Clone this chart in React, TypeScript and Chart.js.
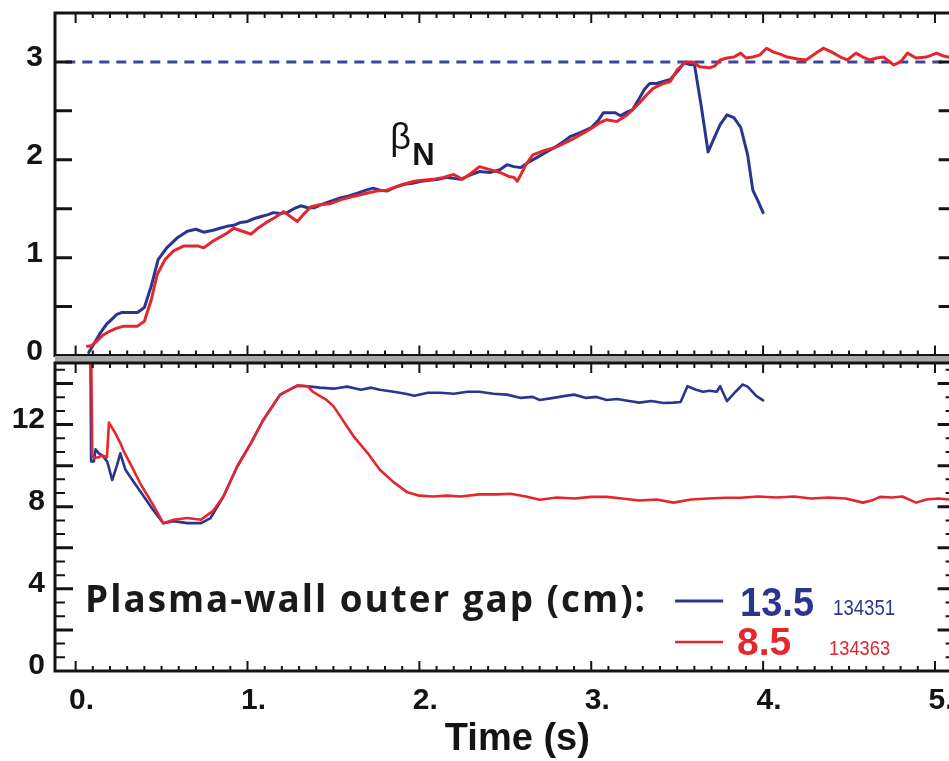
import { useEffect, useRef } from "react";
import { Chart, registerables } from "chart.js";

Chart.register(...registerables);

const BLUE = "#2b3590";
const RED = "#e4262d";
const DASH = "#3c4799";
const INK = "#141414";
const NUM_FONT = "'Liberation Sans', Arial, Helvetica, sans-serif";

// Axis ticks (labels)
const timeTicks = [0, 1, 2, 3, 4, 5];
const betaTicks = [0, 1, 2, 3];
const gapTicks = [0, 4, 8, 12];
const betaTickMarks = [0.5, 1, 1.5, 2, 2.5, 3];
const gapMajorMarks = [2, 4, 6, 8, 10, 12, 14];

// Reference level of beta_N
const betaTarget: [number, number][] = [[-0.06, 3], [5.12, 3]];

// beta_N, shot 134351 (13.5 cm gap)
const betaBlue: [number, number][] = [
  [0.076, 0.03], [0.1, 0.1], [0.14, 0.22], [0.18, 0.32], [0.21, 0.37], [0.24, 0.42], [0.27, 0.44], [0.31, 0.44],
  [0.36, 0.44], [0.4, 0.49], [0.44, 0.71], [0.48, 0.98], [0.53, 1.1], [0.59, 1.2], [0.65, 1.27], [0.7, 1.29],
  [0.745, 1.26], [0.8, 1.28], [0.84, 1.3], [0.88, 1.32], [0.92, 1.33], [0.96, 1.36], [1.0, 1.37], [1.04, 1.4],
  [1.08, 1.42], [1.12, 1.44], [1.15, 1.46], [1.19, 1.45], [1.23, 1.46], [1.27, 1.5], [1.31, 1.53], [1.35, 1.51],
  [1.39, 1.51], [1.44, 1.55], [1.49, 1.58], [1.54, 1.61], [1.59, 1.63], [1.64, 1.66], [1.69, 1.69], [1.73, 1.71],
  [1.77, 1.69], [1.81, 1.68], [1.86, 1.72], [1.91, 1.75], [1.96, 1.76], [2.01, 1.78], [2.06, 1.79], [2.11, 1.8],
  [2.16, 1.82], [2.2, 1.81], [2.24, 1.8], [2.29, 1.84], [2.35, 1.88], [2.41, 1.87], [2.47, 1.9], [2.51, 1.95],
  [2.55, 1.93], [2.59, 1.92], [2.63, 1.97], [2.68, 2.02], [2.74, 2.08], [2.8, 2.14], [2.85, 2.2], [2.88, 2.24],
  [2.94, 2.28], [3.0, 2.33], [3.04, 2.4], [3.07, 2.48], [3.11, 2.48], [3.14, 2.48], [3.17, 2.45], [3.21, 2.49],
  [3.24, 2.51], [3.28, 2.63], [3.31, 2.72], [3.34, 2.78], [3.38, 2.78], [3.42, 2.8], [3.46, 2.82], [3.5, 2.9],
  [3.54, 2.99], [3.58, 2.97], [3.6, 2.98], [3.64, 2.55], [3.68, 2.08], [3.71, 2.2], [3.75, 2.36], [3.79, 2.46],
  [3.83, 2.43], [3.87, 2.33], [3.91, 2.05], [3.94, 1.69], [3.97, 1.58], [4.0, 1.46],
];

// beta_N, shot 134363 (8.5 cm gap)
const betaRed: [number, number][] = [
  [0.068, 0.095], [0.09, 0.1], [0.12, 0.14], [0.16, 0.21], [0.2, 0.25], [0.24, 0.28], [0.28, 0.3], [0.32, 0.3],
  [0.36, 0.3], [0.4, 0.35], [0.44, 0.57], [0.475, 0.83], [0.52, 0.98], [0.57, 1.07], [0.63, 1.12], [0.67, 1.12],
  [0.71, 1.12], [0.745, 1.1], [0.8, 1.17], [0.84, 1.21], [0.88, 1.25], [0.92, 1.3], [0.97, 1.27], [1.02, 1.24],
  [1.06, 1.3], [1.11, 1.36], [1.16, 1.41], [1.21, 1.47], [1.25, 1.42], [1.29, 1.37], [1.33, 1.45], [1.37, 1.52],
  [1.42, 1.54], [1.48, 1.55], [1.54, 1.59], [1.6, 1.62], [1.65, 1.64], [1.7, 1.66], [1.75, 1.68], [1.81, 1.69],
  [1.86, 1.72], [1.91, 1.75], [1.97, 1.78], [2.02, 1.79], [2.08, 1.8], [2.14, 1.82], [2.2, 1.85], [2.25, 1.8],
  [2.3, 1.86], [2.35, 1.93], [2.41, 1.9], [2.47, 1.87], [2.52, 1.83], [2.55, 1.82], [2.57, 1.78], [2.62, 1.95],
  [2.66, 2.05], [2.72, 2.09], [2.78, 2.12], [2.82, 2.15], [2.88, 2.2], [2.94, 2.26], [3.01, 2.33], [3.05, 2.38],
  [3.09, 2.41], [3.15, 2.39], [3.21, 2.46], [3.28, 2.58], [3.32, 2.66], [3.36, 2.73], [3.42, 2.78], [3.46, 2.8],
  [3.5, 2.92], [3.55, 3.0], [3.59, 3.0], [3.63, 2.95], [3.69, 2.94], [3.72, 2.96], [3.75, 3.02], [3.79, 3.04],
  [3.83, 3.05], [3.87, 3.09], [3.9, 3.04], [3.94, 3.05], [3.98, 3.07], [4.02, 3.14], [4.06, 3.1], [4.1, 3.08],
  [4.14, 3.05], [4.2, 3.03], [4.25, 3.02], [4.3, 3.08], [4.35, 3.14], [4.4, 3.1], [4.45, 3.05], [4.49, 3.02],
  [4.54, 3.09], [4.58, 3.05], [4.62, 3.02], [4.66, 3.04], [4.7, 3.05], [4.73, 3.01], [4.76, 2.97], [4.8, 3.0],
  [4.84, 3.09], [4.89, 3.04], [4.95, 3.05], [5.01, 3.09], [5.05, 3.06], [5.1, 3.04],
];

// Plasma-wall outer gap (cm), shot 134351
const gapBlue: [number, number][] = [
  [0.085, 17.5], [0.09, 10.2], [0.106, 10.2], [0.116, 10.8], [0.135, 10.6], [0.155, 10.5], [0.184, 10.2],
  [0.213, 9.3], [0.24, 10.0], [0.26, 10.6], [0.29, 9.8], [0.33, 9.3], [0.38, 8.7], [0.45, 7.85], [0.51, 7.2],
  [0.57, 7.3], [0.65, 7.2], [0.73, 7.2], [0.785, 7.45], [0.86, 8.5], [0.94, 9.96], [1.02, 11.1], [1.09, 12.2],
  [1.19, 13.46], [1.29, 13.9], [1.35, 13.87], [1.42, 13.8], [1.5, 13.75], [1.58, 13.85], [1.66, 13.7],
  [1.72, 13.8], [1.77, 13.7], [1.85, 13.6], [1.92, 13.5], [1.97, 13.4], [2.05, 13.55], [2.12, 13.55],
  [2.2, 13.5], [2.28, 13.6], [2.35, 13.6], [2.43, 13.5], [2.51, 13.46], [2.59, 13.3], [2.66, 13.35],
  [2.7, 13.2], [2.78, 13.3], [2.85, 13.4], [2.9, 13.46], [2.97, 13.3], [3.03, 13.35], [3.09, 13.2],
  [3.15, 13.25], [3.22, 13.15], [3.28, 13.07], [3.35, 13.15], [3.42, 13.05], [3.48, 13.07], [3.52, 13.1],
  [3.56, 13.87], [3.61, 13.7], [3.65, 13.6], [3.69, 13.65], [3.73, 13.6], [3.75, 13.87], [3.79, 13.14],
  [3.84, 13.6], [3.88, 13.95], [3.91, 13.85], [3.96, 13.4], [4.0, 13.18],
];

// Plasma-wall outer gap (cm), shot 134363
const gapRed: [number, number][] = [
  [0.088, 17.5], [0.097, 10.5], [0.106, 10.4], [0.13, 10.4], [0.155, 10.5], [0.182, 10.4], [0.194, 12.1],
  [0.23, 11.6], [0.26, 11.1], [0.28, 10.7], [0.33, 9.9], [0.38, 9.07], [0.45, 8.1], [0.51, 7.2], [0.57, 7.37],
  [0.65, 7.45], [0.73, 7.37], [0.8, 7.8], [0.86, 8.5], [0.94, 9.96], [1.02, 11.1], [1.09, 12.2], [1.19, 13.46],
  [1.29, 13.9], [1.35, 13.87], [1.38, 13.6], [1.42, 13.4], [1.46, 13.2], [1.5, 12.9], [1.54, 12.4], [1.58, 11.9],
  [1.62, 11.4], [1.66, 11.0], [1.7, 10.6], [1.77, 9.8], [1.85, 9.2], [1.93, 8.7], [2.0, 8.54], [2.08, 8.5],
  [2.16, 8.54], [2.24, 8.5], [2.35, 8.6], [2.45, 8.6], [2.53, 8.63], [2.62, 8.5], [2.7, 8.34], [2.8, 8.45],
  [2.9, 8.4], [3.0, 8.48], [3.09, 8.48], [3.18, 8.4], [3.28, 8.3], [3.38, 8.35], [3.48, 8.2], [3.58, 8.35],
  [3.68, 8.4], [3.78, 8.44], [3.87, 8.44], [3.97, 8.5], [4.08, 8.45], [4.18, 8.5], [4.28, 8.4], [4.38, 8.45],
  [4.48, 8.4], [4.58, 8.2], [4.63, 8.3], [4.68, 8.48], [4.75, 8.45], [4.81, 8.5], [4.89, 8.2], [4.95, 8.35],
  [5.02, 8.4], [5.1, 8.34],
];

const X_MIN = -0.12;
const X_MAX = 5.12;

const toXY = (p: [number, number][]) => p.map(([x, y]) => ({ x, y }));

function line(data: [number, number][], color: string, width: number, extra: any = {}) {
  return {
    data: toXY(data),
    borderColor: color,
    borderWidth: width,
    pointRadius: 0,
    tension: 0,
    fill: false,
    borderJoinStyle: "round",
    borderCapStyle: "round",
    ...extra,
  };
}

function noPad(s: any) {
  s.paddingTop = 0;
  s.paddingBottom = 0;
  s.paddingLeft = 0;
  s.paddingRight = 0;
}

function framePlugin(o: { yMajor: number[]; yMinor: number[]; majLen: number; minLen: number }) {
  return {
    id: "frameTicks",
    afterDatasetsDraw(chart: any) {
      const { ctx, chartArea: a } = chart;
      const xs = chart.scales.x;
      const ys = chart.scales.y;
      ctx.save();
      ctx.strokeStyle = INK;
      ctx.lineWidth = 2;
      ctx.beginPath();
      for (let i = 0; i <= 51; i++) {
        const px = xs.getPixelForValue(i / 10);
        if (px <= a.left + 1 || px >= a.right - 1) continue;
        const len = i % 10 === 0 ? 10 : 5;
        ctx.moveTo(px, a.top);
        ctx.lineTo(px, a.top + len);
        ctx.moveTo(px, a.bottom);
        ctx.lineTo(px, a.bottom - len);
      }
      ctx.stroke();
      const yTicks = (vals: number[], len: number, w: number) => {
        ctx.lineWidth = w;
        ctx.beginPath();
        vals.forEach((v) => {
          const py = ys.getPixelForValue(v);
          if (py <= a.top + 1 || py >= a.bottom - 1) return;
          ctx.moveTo(a.left, py);
          ctx.lineTo(a.left + len, py);
          ctx.moveTo(a.right, py);
          ctx.lineTo(a.right - len, py);
        });
        ctx.stroke();
      };
      yTicks(o.yMinor, o.minLen, 2);
      yTicks(o.yMajor, o.majLen, 3);
      ctx.lineWidth = 3;
      ctx.strokeRect(a.left, a.top, a.right - a.left, a.bottom - a.top);
      ctx.restore();
    },
  };
}

const betaLabelPlugin = {
  id: "betaLabel",
  afterDraw(chart: any) {
    const { ctx } = chart;
    const x = chart.scales.x.getPixelForValue(1.83);
    const y = chart.scales.y.getPixelForValue(2.11);
    ctx.save();
    ctx.fillStyle = INK;
    ctx.textBaseline = "alphabetic";
    ctx.textAlign = "left";
    ctx.font = `36px ${NUM_FONT}`;
    ctx.fillText("β", x, y);
    ctx.font = `bold 31px ${NUM_FONT}`;
    ctx.fillText("N", x + 22, y + 16);
    ctx.restore();
  },
};

const legendPlugin = {
  id: "gapLegend",
  afterDraw(chart: any) {
    const { ctx } = chart;
    const x = chart.scales.x.getPixelForValue(0.055);
    const y = chart.scales.y.getPixelForValue(2.87);
    ctx.save();
    ctx.textAlign = "left";
    ctx.textBaseline = "alphabetic";
    ctx.fillStyle = "#1a1a1a";
    ctx.font = "bold 37px 'Open Sans', 'DejaVu Sans', sans-serif";
    (ctx as any).letterSpacing = "2px";
    ctx.fillText("Plasma-wall outer gap (cm):", x, y, 562);
    (ctx as any).letterSpacing = "0px";
    // blue entry
    ctx.strokeStyle = BLUE;
    ctx.lineWidth = 3;
    ctx.beginPath();
    ctx.moveTo(x + 590, y - 11);
    ctx.lineTo(x + 638, y - 11);
    ctx.stroke();
    ctx.fillStyle = BLUE;
    ctx.font = `bold 41px ${NUM_FONT}`;
    ctx.fillText("13.5", x + 655, y + 4, 74);
    ctx.font = `22px ${NUM_FONT}`;
    ctx.fillText("134351", x + 748, y + 3, 62);
    // red entry
    ctx.strokeStyle = RED;
    ctx.lineWidth = 2.5;
    ctx.beginPath();
    ctx.moveTo(x + 590, y + 30);
    ctx.lineTo(x + 638, y + 30);
    ctx.stroke();
    ctx.fillStyle = RED;
    ctx.font = `bold 39px ${NUM_FONT}`;
    ctx.fillText("8.5", x + 652, y + 43, 56);
    ctx.font = `21px ${NUM_FONT}`;
    ctx.fillText("134363", x + 744, y + 43, 61);
    ctx.restore();
  },
};

const gapBandPlugin = {
  id: "gapBand",
  beforeDraw(chart: any) {
    const { ctx, chartArea: a } = chart;
    ctx.save();
    ctx.fillStyle = "#a8a8a8";
    ctx.fillRect(a.left, 0, a.right - a.left, a.top);
    ctx.restore();
  },
};

const timeTitlePlugin = {
  id: "timeTitle",
  afterDraw(chart: any) {
    const { ctx } = chart;
    const x = chart.scales.x.getPixelForValue(2.57);
    ctx.save();
    ctx.fillStyle = INK;
    ctx.textAlign = "center";
    ctx.textBaseline = "alphabetic";
    ctx.font = `bold 38px ${NUM_FONT}`;
    ctx.fillText("Time (s)", x, chart.height - 11);
    ctx.restore();
  },
};

const tickFont = { family: NUM_FONT, size: 30, weight: "bold" as const };

export default function App() {
  const topRef = useRef<HTMLCanvasElement>(null);
  const botRef = useRef<HTMLCanvasElement>(null);

  useEffect(() => {
    const top = new Chart(topRef.current!, {
      type: "line",
      data: {
        datasets: [
          line(betaRed, RED, 3) as any,
          line(betaBlue, BLUE, 3) as any,
          line(betaTarget, DASH, 3, { borderDash: [10, 7], borderCapStyle: "butt" }) as any,
        ],
      },
      options: {
        responsive: false,
        animation: false,
        events: [],
        layout: { padding: { top: 13, right: 4.4, bottom: 16.5, left: 0 } },
        plugins: { legend: { display: false }, tooltip: { enabled: false } },
        scales: {
          x: { type: "linear", min: X_MIN, max: X_MAX, display: false },
          y: {
            type: "linear",
            min: 0,
            max: 3.5,
            afterFit: (s: any) => { s.width = 55; noPad(s); },
            afterBuildTicks: (s: any) => { s.ticks = betaTicks.map((v) => ({ value: v })); },
            grid: { display: false, drawTicks: false },
            border: { display: false },
            ticks: { font: tickFont, color: INK, padding: 12, labelOffset: -4, callback: (v: any) => String(v) },
          },
        },
      },
      plugins: [
        framePlugin({ yMajor: betaTickMarks, yMinor: [], majLen: 17, minLen: 17 }),
        betaLabelPlugin,
      ],
    });

    const gapMinor: number[] = [];
    for (let k = 1; k <= 22; k++) if (k % 3 !== 0) gapMinor.push((k * 2) / 3);

    const bot = new Chart(botRef.current!, {
      type: "line",
      data: {
        datasets: [line(gapRed, RED, 2.6) as any, line(gapBlue, BLUE, 2.6) as any],
      },
      options: {
        responsive: false,
        animation: false,
        events: [],
        layout: { padding: { top: 7, right: 4.4, bottom: 0, left: 0 } },
        plugins: { legend: { display: false }, tooltip: { enabled: false } },
        scales: {
          x: {
            type: "linear",
            min: X_MIN,
            max: X_MAX,
            afterFit: (s: any) => { s.height = 90; noPad(s); },
            afterBuildTicks: (s: any) => { s.ticks = timeTicks.map((v) => ({ value: v })); },
            grid: { display: false, drawTicks: false },
            border: { display: false },
            ticks: {
              font: tickFont,
              color: INK,
              padding: 12,
              labelOffset: 6,
              maxRotation: 0,
              autoSkip: false,
              callback: (v: any) => `${v}.`,
            },
          },
          y: {
            type: "linear",
            min: 0,
            max: 15,
            afterFit: (s: any) => { s.width = 55; noPad(s); },
            afterBuildTicks: (s: any) => { s.ticks = gapTicks.map((v) => ({ value: v })); },
            grid: { display: false, drawTicks: false },
            border: { display: false },
            ticks: { font: tickFont, color: INK, padding: 10, labelOffset: -5, callback: (v: any) => String(v) },
          },
        },
      },
      plugins: [
        gapBandPlugin,
        framePlugin({ yMajor: gapMajorMarks, yMinor: gapMinor, majLen: 18, minLen: 10 }),
        legendPlugin,
        timeTitlePlugin,
      ],
    });

    return () => {
      top.destroy();
      bot.destroy();
    };
  }, []);

  return (
    <div
      style={{
        position: "fixed",
        left: 0,
        top: 0,
        width: 949,
        height: 761,
        overflow: "hidden",
        background: "#ffffff",
      }}
    >
      <canvas
        ref={topRef}
        width={960}
        height={372}
        style={{ position: "absolute", left: 0, top: 0, width: 960, height: 372, display: "block" }}
      />
      <canvas
        ref={botRef}
        width={960}
        height={405}
        style={{ position: "absolute", left: 0, top: 356, width: 960, height: 405, display: "block" }}
      />
    </div>
  );
}
